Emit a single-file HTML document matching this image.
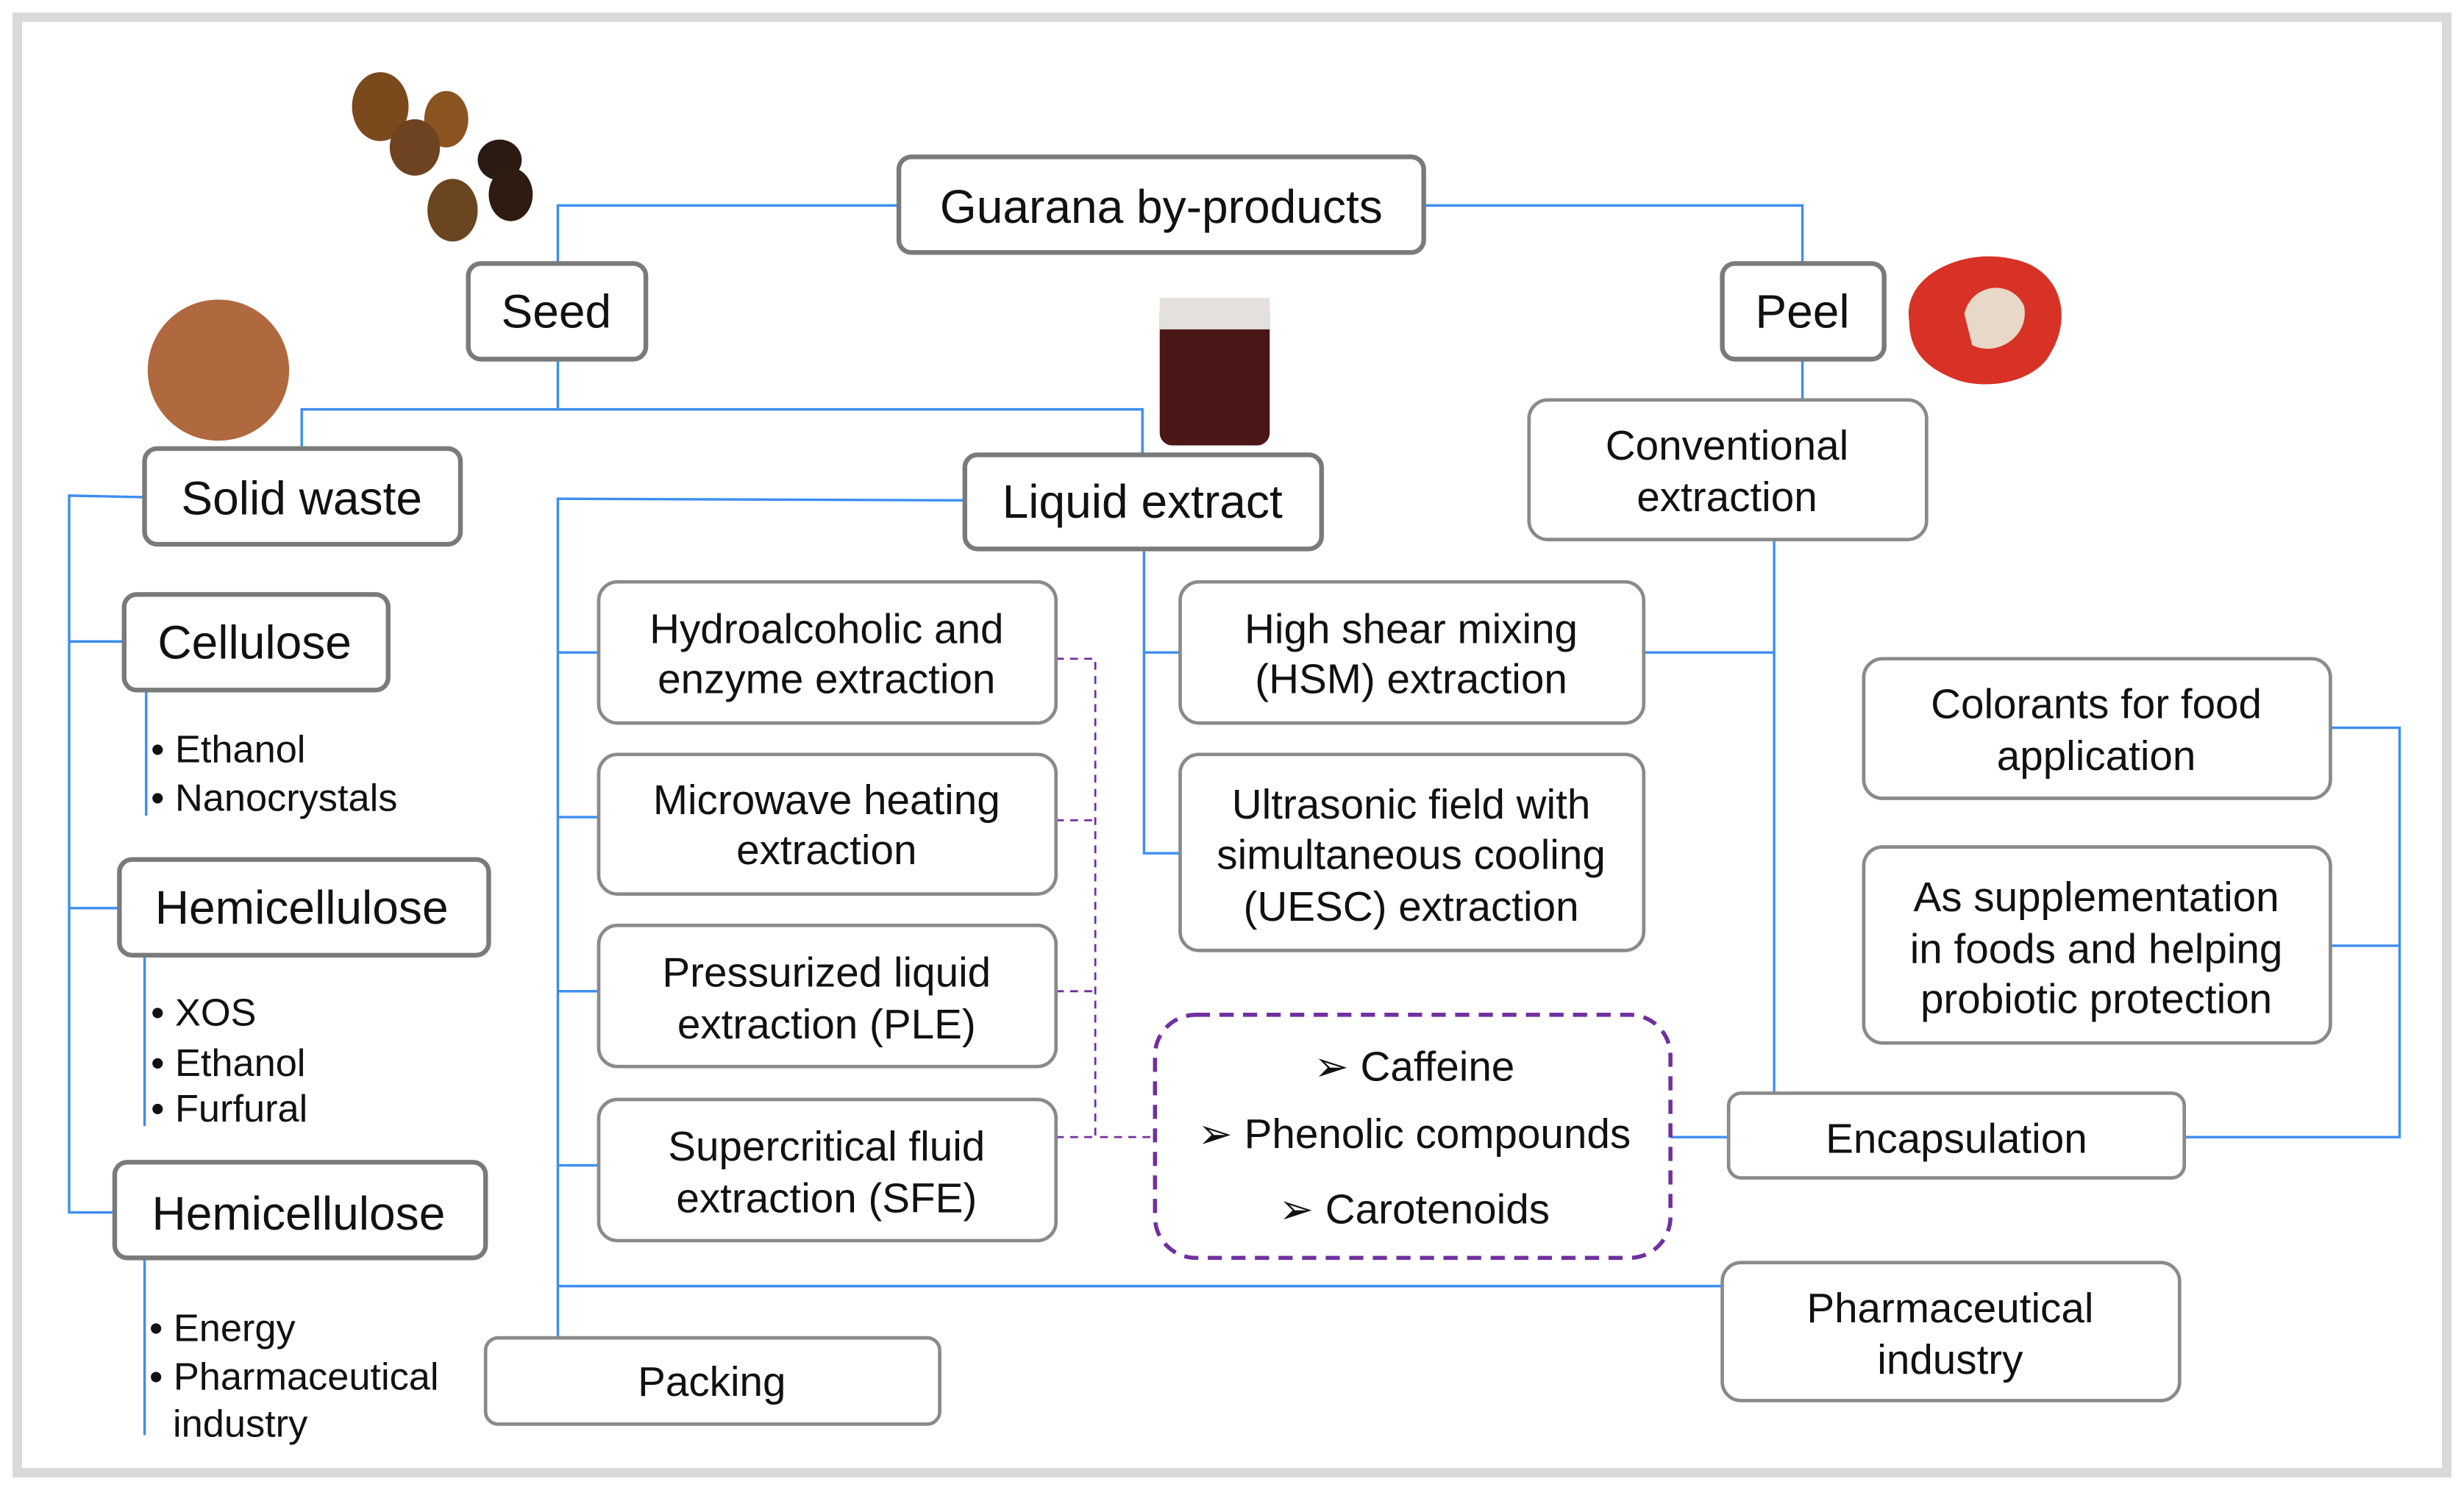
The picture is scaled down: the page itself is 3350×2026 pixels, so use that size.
<!DOCTYPE html>
<html><head><meta charset="utf-8"><style>html,body{margin:0;padding:0;background:#fff}svg{display:block}</style></head><body>
<svg width="3350" height="2026" viewBox="0 0 1568 950" preserveAspectRatio="none" xmlns="http://www.w3.org/2000/svg" font-family="Liberation Sans, Arial, sans-serif">
<rect x="0" y="0" width="1568" height="950" fill="#fff"/>
<rect x="11" y="11" width="1546" height="928" fill="#fff" stroke="#d9d9d9" stroke-width="6"/>
<g stroke="#3d8ef0" stroke-width="1.6" fill="none">
<polyline points="572,131 355,131 355,168"/>
<polyline points="906,131 1147,131 1147,168"/>
<polyline points="355,229 355,261"/>
<polyline points="192,286 192,261 727,261 727,290"/>
<polyline points="1147,229 1147,255"/>
<polyline points="92,317 44,316 44,773 73,773"/>
<line x1="44" y1="409" x2="79" y2="409"/>
<line x1="44" y1="579" x2="76" y2="579"/>
<polyline points="614,319 355,318 355,852"/>
<line x1="355" y1="416" x2="381" y2="416"/>
<line x1="355" y1="521" x2="381" y2="521"/>
<line x1="355" y1="632" x2="381" y2="632"/>
<line x1="355" y1="743" x2="381" y2="743"/>
<line x1="355" y1="820" x2="1096" y2="820"/>
<polyline points="728,350 728,544 751,544"/>
<line x1="728" y1="416" x2="751" y2="416"/>
<polyline points="1129,344 1129,697"/>
<line x1="1046" y1="416" x2="1129" y2="416"/>
<line x1="1063" y1="725" x2="1100" y2="725"/>
<polyline points="1390,725 1527,725 1527,464 1483,464"/>
<line x1="1483" y1="603" x2="1527" y2="603"/>
<line x1="93" y1="440" x2="93" y2="520"/>
<line x1="92" y1="609" x2="92" y2="718"/>
<line x1="92" y1="802" x2="92" y2="915"/>
</g>
<g stroke="#7030a0" stroke-width="1.3" fill="none" stroke-dasharray="5,4">
<polyline points="672,420 697,420 697,725 735,725"/>
<line x1="672" y1="523" x2="697" y2="523"/>
<line x1="672" y1="632" x2="697" y2="632"/>
<line x1="672" y1="725" x2="697" y2="725"/>
</g>
<rect x="735" y="647" width="328" height="155" rx="26" fill="#fff" stroke="#7030a0" stroke-width="2.6" stroke-dasharray="9,6"/>
<g fill="#fff" stroke="#7a7a7a" stroke-width="3">
<rect x="572" y="100" width="334" height="61" rx="8"/>
<rect x="298" y="168" width="113" height="61" rx="8"/>
<rect x="1096" y="168" width="103" height="61" rx="8"/>
<rect x="92" y="286" width="201" height="61" rx="8"/>
<rect x="614" y="290" width="227" height="60" rx="8"/>
<rect x="79" y="379" width="168" height="61" rx="8"/>
<rect x="76" y="548" width="235" height="61" rx="8"/>
<rect x="73" y="741" width="236" height="61" rx="8"/>
</g>
<g fill="#fff" stroke="#8a8a8a" stroke-width="2.2">
<rect x="973" y="255" width="253" height="89" rx="12"/>
<rect x="381" y="371" width="291" height="90" rx="12"/>
<rect x="381" y="481" width="291" height="89" rx="12"/>
<rect x="381" y="590" width="291" height="90" rx="12"/>
<rect x="381" y="701" width="291" height="90" rx="12"/>
<rect x="751" y="371" width="295" height="90" rx="12"/>
<rect x="751" y="481" width="295" height="125" rx="12"/>
<rect x="1186" y="420" width="297" height="89" rx="12"/>
<rect x="1186" y="540" width="297" height="125" rx="12"/>
<rect x="1100" y="697" width="290" height="54" rx="8"/>
<rect x="1096" y="805" width="291" height="88" rx="12"/>
<rect x="309" y="853" width="289" height="55" rx="8"/>
</g>
<g fill="#111" text-anchor="middle" font-size="30">
<text x="739" y="142">Guarana by-products</text>
<text x="354" y="209">Seed</text>
<text x="1147" y="209">Peel</text>
<text x="192" y="328">Solid waste</text>
<text x="727" y="330">Liquid extract</text>
<text x="162" y="420">Cellulose</text>
<text x="192" y="589">Hemicellulose</text>
<text x="190" y="784">Hemicellulose</text>
</g>
<g fill="#111" text-anchor="middle" font-size="26.5">
<text x="1099" y="293">Conventional</text><text x="1099" y="326">extraction</text>
<text x="526" y="410">Hydroalcoholic and</text><text x="526" y="442">enzyme extraction</text>
<text x="526" y="519">Microwave heating</text><text x="526" y="551">extraction</text>
<text x="526" y="629">Pressurized liquid</text><text x="526" y="662">extraction (PLE)</text>
<text x="526" y="740">Supercritical fluid</text><text x="526" y="773">extraction (SFE)</text>
<text x="898" y="410">High shear mixing</text><text x="898" y="442">(HSM) extraction</text>
<text x="898" y="522">Ultrasonic field with</text><text x="898" y="554">simultaneous cooling</text><text x="898" y="587">(UESC) extraction</text>
<text x="1334" y="458">Colorants for food</text><text x="1334" y="491">application</text>
<text x="1334" y="581">As supplementation</text><text x="1334" y="614">in foods and helping</text><text x="1334" y="646">probiotic protection</text>
<text x="1245" y="735">Encapsulation</text>
<text x="1241" y="843">Pharmaceutical</text><text x="1241" y="876">industry</text>
<text x="453" y="890">Packing</text>
<text x="900" y="689">➢ Caffeine</text>
<text x="900" y="732">➢ Phenolic compounds</text>
<text x="900" y="780">➢ Carotenoids</text>
</g>
<g fill="#111" font-size="24.5">
<text x="96" y="486">• Ethanol</text>
<text x="96" y="517">• Nanocrystals</text>
<text x="96" y="654">• XOS</text>
<text x="96" y="686">• Ethanol</text>
<text x="96" y="715">• Furfural</text>
<text x="95" y="855">• Energy</text>
<text x="95" y="886">• Pharmaceutical</text>
<text x="110" y="916">industry</text>
</g>
<g>
<ellipse cx="242" cy="68" rx="18" ry="22" fill="#7a4a1c"/>
<ellipse cx="284" cy="76" rx="14" ry="18" fill="#8a5420"/>
<ellipse cx="264" cy="94" rx="16" ry="18" fill="#6e4322"/>
<ellipse cx="318" cy="102" rx="14" ry="13" fill="#2a1a12"/>
<ellipse cx="325" cy="124" rx="14" ry="17" fill="#2e1c10"/>
<ellipse cx="288" cy="134" rx="16" ry="20" fill="#6b4420"/>
</g>
<circle cx="139" cy="236" r="45" fill="#b0683f"/>
<rect x="738" y="192" width="70" height="92" rx="8" fill="#4a1616"/>
<rect x="738" y="190" width="70" height="20" fill="#e6e0dc"/>
<path d="M1215 205 C1210 175 1250 158 1280 165 C1310 170 1320 200 1305 225 C1295 245 1260 250 1240 240 C1222 232 1215 220 1215 205Z" fill="#d83226"/>
<path d="M1250 200 C1255 180 1280 178 1288 195 C1292 215 1270 228 1255 220Z" fill="#e8d8c8"/>
</svg>
</body></html>
